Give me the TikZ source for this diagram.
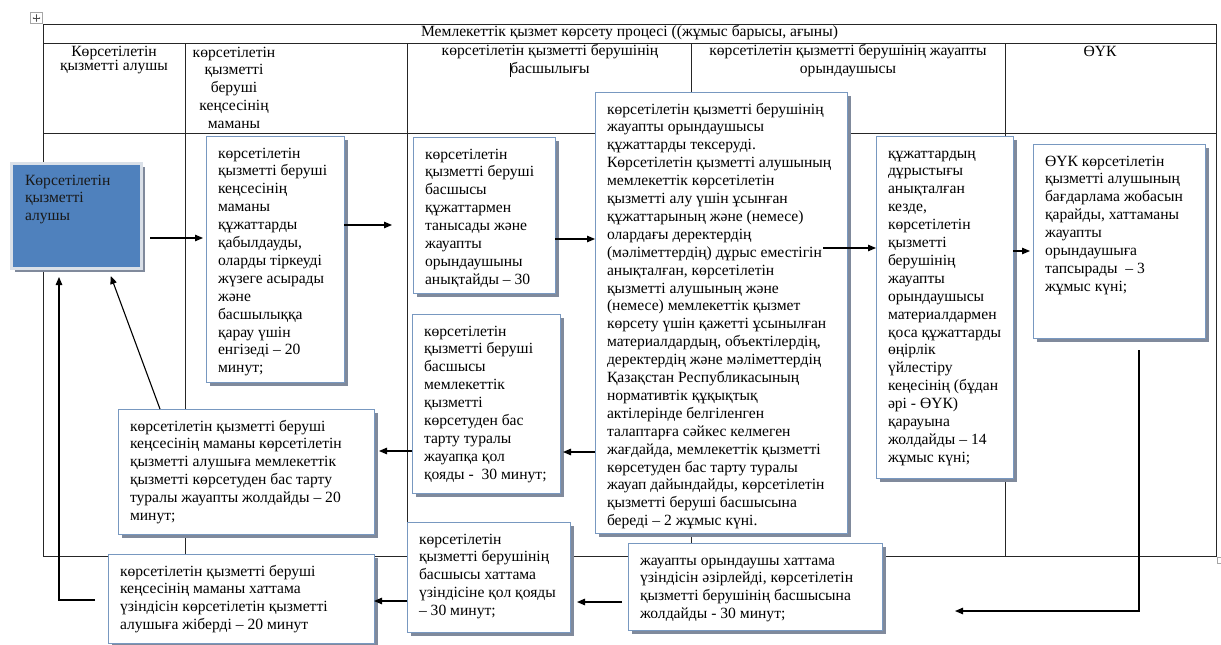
\documentclass[tikz,border=0pt]{standalone}
\usepackage{fontspec}
\setmainfont{Liberation Serif}
\usetikzlibrary{arrows.meta,shadows}
\hfuzz=60pt
\vfuzz=60pt
\hbadness=10000
\definecolor{boxline}{RGB}{120,152,192}
\definecolor{shadowc}{RGB}{128,138,156}
\definecolor{recipblue}{RGB}{79,129,189}
\definecolor{recipedge}{RGB}{218,224,232}
\newcommand\bodyfont{\fontsize{15.6}{17.9}\selectfont}
% box text: width and height of the box (pt), then the lines
\newcommand\boxtext[3]{\parbox[t][\dimexpr#2pt-19pt\relax][t]{\dimexpr#1pt-24pt\relax}{\raggedright\strut #3}}
\begin{document}
\begin{tikzpicture}[x=1pt,y=-1pt,
  tbl/.style={draw=black!85,line width=0.9pt},
  stepbox/.style={draw=boxline,line width=0.8pt,fill=white,anchor=north west,
    inner xsep=12pt,inner ysep=9.5pt,outer sep=0pt,font=\bodyfont,
    general shadow={fill=shadowc,shadow xshift=3.5pt,shadow yshift=-3.5pt}},
  recipient/.style={draw=recipedge,line width=3pt,fill=recipblue,anchor=north west,
    inner xsep=13.5pt,inner ysep=9pt,outer sep=0pt,font=\bodyfont,text=black!90,
    general shadow={fill=shadowc,shadow xshift=3.5pt,shadow yshift=-3.5pt}},
  hdr/.style={inner sep=0pt,anchor=base,font=\bodyfont},
  arr/.style={draw=black,line width=1.1pt,-{Triangle[length=8pt,width=6.5pt]}}]

\fill[white] (0,0) rectangle (1221,645);
\useasboundingbox (0,0) rectangle (1221,645);

% table move handle and resize handle
\draw[gray!70,fill=white,line width=0.6pt] (30.5,12.5) rectangle (42.5,23.5);
\draw[gray!60!black,line width=0.5pt,{Stealth[length=1.6pt]}-{Stealth[length=1.6pt]}] (32.5,18) -- (40.5,18);
\draw[gray!60!black,line width=0.5pt,{Stealth[length=1.6pt]}-{Stealth[length=1.6pt]}] (36.5,14) -- (36.5,22);
\draw[gray!70,line width=0.6pt] (1217.5,557.5) rectangle (1224,563.5);

% process table grid
\draw[tbl] (43,24) rectangle (1216,556);
\draw[tbl] (43,43) -- (1216,43);
\draw[tbl] (43,133) -- (1216,133);
\foreach \cx in {185,407,691,1005} \draw[tbl] (\cx,43) -- (\cx,556);

% table headings
\node[hdr] (title) at (629.5,36) {Мемлекеттік қызмет көрсету процесі ((жұмыс барысы, ағыны)};
\node[hdr] (h1) at (114,56) {\parbox[t]{140pt}{\centering\baselineskip=14pt\lineskiplimit=-20pt Көрсетілетін\\қызметті алушы}};
\node[hdr] (h2) at (234,57) {\parbox[t]{120pt}{\centering көрсетілетін\\қызметті\\беруші\\кеңсесінің\\маманы}};
\node[hdr] (h3) at (550,55.5) {\parbox[t]{280pt}{\centering көрсетілетін қызметті берушінің\\басшылығы}};
\node[hdr] (h4) at (848,55.5) {\parbox[t]{310pt}{\centering көрсетілетін қызметті берушінің жауапты\\орындаушысы}};
\node[hdr] (h5) at (1100,56) {ӨҮК};
\draw[line width=0.6pt] (510,63) -- (510,77);

% service recipient
\node[recipient] (A) at (11.5,163.5) {\parbox[t][87pt][t]{103pt}{\raggedright\strut Көрсетілетін\\қызметті\\алушы}};

% process steps
\node[stepbox] (B) at (206,136) {\boxtext{138}{246}{көрсетілетін\\қызметті беруші\\кеңсесінің\\маманы\\құжаттарды\\қабылдауды,\\оларды тіркеуді\\жүзеге асырады\\және\\басшылыққа\\қарау үшін\\енгізеді – 20\\минут;}};

\node[stepbox] (C) at (413,137) {\boxtext{142}{156}{көрсетілетін\\қызметті беруші\\басшысы\\құжаттармен\\танысады және\\жауапты\\орындаушыны\\анықтайды – 30}};

\node[stepbox] (D) at (412,314) {\boxtext{148}{179}{көрсетілетін\\қызметті беруші\\басшысы\\мемлекеттік\\қызметті\\көрсетуден бас\\тарту туралы\\жауапқа қол\\қояды -~~30 минут;}};

\node[stepbox] (E) at (595,92) {\boxtext{252}{441}{көрсетілетін қызметті берушінің\\жауапты орындаушысы\\құжаттарды тексеруді.\\Көрсетілетін қызметті алушының\\мемлекеттік көрсетілетін\\қызметті алу үшін ұсынған\\құжаттарының және (немесе)\\олардағы деректердің\\(мәліметтердің) дұрыс еместігін\\анықталған, көрсетілетін\\қызметті алушының және\\(немесе) мемлекеттік қызмет\\көрсету үшін қажетті ұсынылған\\материалдардың, объектілердің,\\деректердің және мәліметтердің\\Қазақстан Республикасының\\нормативтік құқықтық\\актілерінде белгіленген\\талаптарға сәйкес келмеген\\жағдайда, мемлекеттік қызметті\\көрсетуден бас тарту туралы\\жауап дайындайды, көрсетілетін\\қызметті беруші басшысына\\береді – 2 жұмыс күні.}};

\node[stepbox] (F) at (876,136) {\boxtext{137}{342}{құжаттардың\\дұрыстығы\\анықталған\\кезде,\\көрсетілетін\\қызметті\\берушінің\\жауапты\\орындаушысы\\материалдармен\\қоса құжаттарды\\өңірлік\\үйлестіру\\кеңесінің (бұдан\\әрі - ӨҮК)\\қарауына\\жолдайды – 14\\жұмыс күні;}};

\node[stepbox] (G) at (1033,144) {\boxtext{172}{194}{ӨҮК көрсетілетін\\қызметті алушының\\бағдарлама жобасын\\қарайды, хаттаманы\\жауапты\\орындаушыға\\тапсырады~~– 3\\жұмыс күні;}};

\node[stepbox] (H) at (628,543) {\boxtext{254}{87}{жауапты орындаушы хаттама\\үзіндісін әзірлейді, көрсетілетін\\қызметті берушінің басшысына\\жолдайды - 30 минут;}};

\node[stepbox] (I) at (407,522) {\boxtext{163}{110}{көрсетілетін\\қызметті берушінің\\басшысы хаттама\\үзіндісіне қол қояды\\– 30 минут;}};

\node[stepbox] (J) at (118,409) {\boxtext{256}{125}{көрсетілетін қызметті беруші\\кеңсесінің маманы көрсетілетін\\қызметті алушыға мемлекеттік\\қызметті көрсетуден бас тарту\\туралы жауапты жолдайды – 20\\минут;}};

\node[stepbox] (K) at (108,554) {\boxtext{266}{89}{көрсетілетін қызметті беруші\\кеңсесінің маманы хаттама\\үзіндісін көрсетілетін қызметті\\алушыға жіберді – 20 минут}};

% flow connectors
\coordinate (ukEnd) at (955,611);
\draw[arr,shorten <=8.5pt,shorten >=3pt] (A.east |- 0,238) -- (B.west |- 0,238);
\draw[arr,shorten >=21pt] (B.east |- 0,225) -- (C.west |- 0,225);
\draw[arr] (C.east |- 0,239) -- (E.west |- 0,239);
\draw[arr,shorten <=-24pt] (E.east |- 0,248) -- (F.west |- 0,248);
\draw[arr,shorten >=3pt] (F.east |- 0,251) -- (G.west |- 0,251);
\draw[arr,shorten <=12pt] (G.south -| 1139,0) |- (ukEnd);
\draw[arr,shorten <=6pt,shorten >=7pt] (H.west |- 0,602) -- (I.east |- 0,602);
\draw[arr] (I.west |- 0,601) -- (K.east |- 0,601);
\draw[arr,shorten >=3pt] (E.west |- 0,452) -- (D.east |- 0,452);
\draw[arr,shorten >=5pt] (D.west |- 0,451) -- (J.east |- 0,451);
\draw[arr,shorten >=8pt] (J.north -| 160,0) -- (A.south -| 108,0);
\draw[arr,shorten <=13pt,shorten >=8.5pt] (K.west |- 0,600) -| (A.south -| 59,0);
\end{tikzpicture}
\end{document}
